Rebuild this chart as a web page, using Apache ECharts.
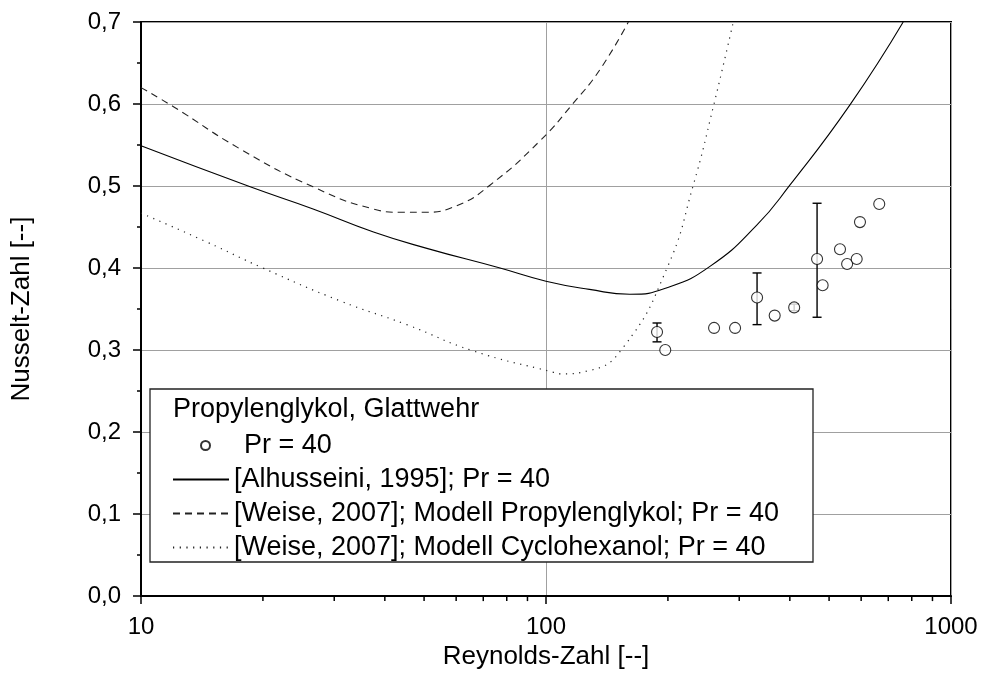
<!DOCTYPE html>
<html>
<head>
<meta charset="utf-8">
<title>Nusselt-Zahl vs Reynolds-Zahl</title>
<script src="https://cdn.jsdelivr.net/npm/echarts@6/dist/echarts.min.js"></script>
<style>
  html, body { margin: 0; padding: 0; background: #fff; }
  #chart { width: 984px; height: 675px; }
</style>
</head>
<body>
<div id="chart"></div>
<script>
  // Messpunkte, Pr = 40
  var reMess = [188, 197, 260, 293, 332, 367, 410, 467, 482, 532, 554, 585, 596, 665]
  var nuMess = [0.322, 0.300, 0.327, 0.327, 0.364, 0.342, 0.352, 0.411, 0.379, 0.423, 0.405, 0.411, 0.456, 0.478]
  // Fehlerbalken [Re, unten, oben]
  var errRe = [188, 332, 410, 467]
  var errLow = [0.310, 0.331, 0.348, 0.340]
  var errHigh = [0.333, 0.394, 0.356, 0.479]

  // [Alhusseini, 1995]
  var reAlh = [10, 18.6, 26.6, 37.5, 50.8, 77, 100, 128, 161, 199, 254, 331, 400, 563, 762]
  var nuAlh = [0.549, 0.499, 0.472, 0.444, 0.424, 0.400, 0.384, 0.374, 0.368, 0.376, 0.402, 0.452, 0.501, 0.599, 0.700]
  // [Weise, 2007] Propylenglykol
  var reProp = [10, 12, 17.6, 26.6, 37.5, 43.6, 49.8, 60.2, 72.7, 96.6, 116.8, 135.9, 159.7]
  var nuProp = [0.620, 0.597, 0.545, 0.499, 0.472, 0.468, 0.468, 0.476, 0.501, 0.555, 0.601, 0.642, 0.700]
  // [Weise, 2007] Cyclohexanol
  var reCyc = [10, 14.5, 20, 31, 45.3, 66.1, 104, 108, 128, 155, 199, 231, 259, 290]
  var nuCyc = [0.467, 0.432, 0.400, 0.360, 0.331, 0.299, 0.273, 0.271, 0.275, 0.303, 0.400, 0.501, 0.597, 0.700]

  var minorRe = [20, 30, 40, 50, 60, 70, 80, 90, 200, 300, 400, 500, 600, 700, 800, 900]

  var nameMess = 'Pr = 40'
  var nameAlh = '[Alhusseini, 1995]; Pr = 40'
  var nameProp = '[Weise, 2007]; Modell Propylenglykol; Pr = 40'
  var nameCyc = '[Weise, 2007]; Modell Cyclohexanol; Pr = 40'

  function zip (a, b) {
    return a.map(function (v, i) { return [v, b[i]] })
  }

  var font = '"Liberation Sans", Arial, sans-serif'
  var myChart = echarts.init(document.getElementById('chart'), null, { renderer: 'canvas' })

  var lineBase = {
    type: 'line',
    symbol: 'none',
    showSymbol: false,
    smooth: 0.5,
    animation: false,
    color: '#000',
    z: 2
  }

  var legendText = { fontSize: 27, color: '#000', fontFamily: font, lineHeight: 26 }

  myChart.setOption({
    animation: false,
    textStyle: { fontFamily: font, color: '#000' },
    grid: {
      left: 141, right: 33, top: 22, bottom: 74,
      show: true, borderColor: '#000', borderWidth: 2, backgroundColor: 'transparent'
    },
    xAxis: {
      type: 'log',
      logBase: 10,
      min: 10,
      max: 1000,
      name: 'Reynolds-Zahl [--]',
      nameLocation: 'middle',
      nameGap: 45,
      nameTextStyle: { fontSize: 26, color: '#000', fontFamily: font },
      axisLine: { lineStyle: { color: '#000', width: 2 } },
      axisTick: { show: true, length: 8, lineStyle: { color: '#000', width: 1.5 } },
      axisLabel: {
        fontSize: 24, color: '#000', margin: 19, fontFamily: font,
        formatter: function (v) { return String(Math.round(v)) }
      },
      splitLine: { show: true, lineStyle: { color: '#a0a0a0', width: 1 } }
    },
    yAxis: {
      type: 'value',
      min: 0,
      max: 0.7,
      interval: 0.1,
      name: 'Nusselt-Zahl [--]',
      nameLocation: 'middle',
      nameGap: 106,
      nameTextStyle: { fontSize: 26, color: '#000', fontFamily: font },
      axisLine: { show: true, lineStyle: { color: '#000', width: 2 } },
      axisTick: { show: true, length: 8, lineStyle: { color: '#000', width: 1.5 } },
      minorTick: { show: true, splitNumber: 2, length: 4, lineStyle: { color: '#000', width: 1.5 } },
      axisLabel: {
        fontSize: 24, color: '#000', margin: 20, fontFamily: font,
        formatter: function (v) { return v.toFixed(1).replace('.', ',') }
      },
      splitLine: { show: true, lineStyle: { color: '#a0a0a0', width: 1 } }
    },
    legend: [{
      data: [nameMess],
      orient: 'vertical',
      left: 200,
      top: 432,
      padding: 0,
      itemWidth: 9,
      itemHeight: 9,
      z: 6,
      textStyle: Object.assign({ padding: [0, 0, 0, 29] }, legendText),
      selectedMode: false
    }, {
      data: [nameAlh, nameProp, nameCyc],
      orient: 'vertical',
      left: 172,
      top: 466,
      padding: 0,
      itemWidth: 56,
      itemHeight: 14,
      itemGap: 7,
      z: 6,
      itemStyle: { opacity: 0 },
      textStyle: legendText,
      selectedMode: false
    }],
    graphic: [{
      type: 'rect',
      z: 3,
      shape: { x: 150, y: 389, width: 663, height: 173 },
      style: { fill: '#fff', stroke: '#222', lineWidth: 1.3 }
    }, {
      type: 'text',
      z: 5,
      left: 173,
      top: 396,
      style: { text: 'Propylenglykol, Glattwehr', font: '27px ' + font, fill: '#000' }
    }],
    series: [
      Object.assign({}, lineBase, {
        name: nameAlh,
        data: zip(reAlh, nuAlh),
        lineStyle: { color: '#000', width: 1.1, type: 'solid' }
      }),
      Object.assign({}, lineBase, {
        name: nameProp,
        data: zip(reProp, nuProp),
        lineStyle: { color: '#222', width: 1.1, type: [7, 5] }
      }),
      Object.assign({}, lineBase, {
        name: nameCyc,
        data: zip(reCyc, nuCyc),
        lineStyle: { color: '#222', width: 1.2, type: [1.2, 5.5] }
      }),
      {
        type: 'custom',
        name: 'err',
        z: 3,
        animation: false,
        data: errRe.map(function (r, i) { return [r, errLow[i], errHigh[i]] }),
        encode: { x: 0, y: [1, 2] },
        renderItem: function (params, api) {
          var lo = api.coord([api.value(0), api.value(1)])
          var hi = api.coord([api.value(0), api.value(2)])
          var w = 4.5
          var st = { stroke: '#000', lineWidth: 1.4 }
          return {
            type: 'group',
            children: [
              { type: 'line', shape: { x1: lo[0], y1: lo[1], x2: hi[0], y2: hi[1] }, style: st },
              { type: 'line', shape: { x1: lo[0] - w, y1: lo[1], x2: lo[0] + w, y2: lo[1] }, style: st },
              { type: 'line', shape: { x1: hi[0] - w, y1: hi[1], x2: hi[0] + w, y2: hi[1] }, style: st }
            ]
          }
        }
      },
      {
        type: 'scatter',
        name: nameMess,
        z: 4,
        animation: false,
        symbol: 'circle',
        symbolSize: 11,
        data: zip(reMess, nuMess),
        itemStyle: { color: '#fff', borderColor: '#000', borderWidth: 1.1 }
      },
      {
        type: 'custom',
        name: 'minorTicks',
        clip: false,
        silent: true,
        animation: false,
        data: minorRe.map(function (r) { return [r, 0] }),
        encode: { x: 0, y: 1 },
        renderItem: function (params, api) {
          var p = api.coord([api.value(0), 0])
          return {
            type: 'line',
            shape: { x1: p[0], y1: p[1], x2: p[0], y2: p[1] + 5 },
            style: { stroke: '#000', lineWidth: 1.5 }
          }
        }
      }
    ]
  })
</script>
</body>
</html>
